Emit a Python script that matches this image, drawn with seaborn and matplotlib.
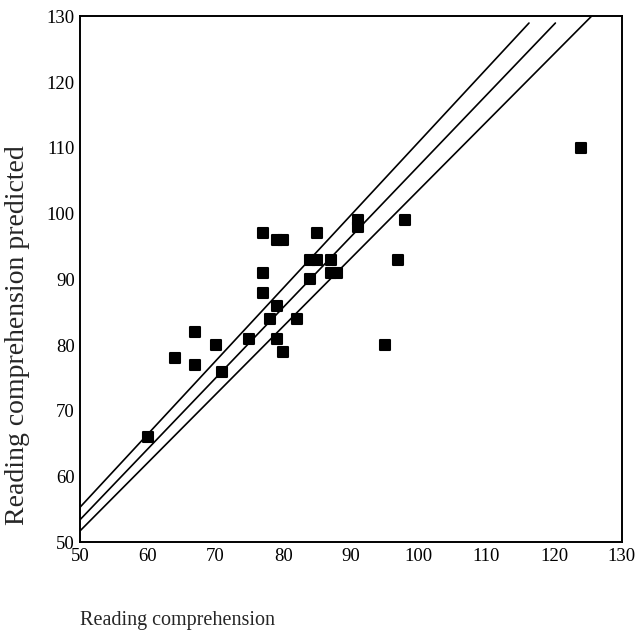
import numpy as np
import pandas as pd
import seaborn as sns
import matplotlib.pyplot as plt

reading = [60, 64, 67, 67, 70, 71, 75, 77, 77, 77, 78, 79, 79, 79, 80, 80, 82,
           84, 84, 85, 85, 87, 87, 88, 91, 91, 95, 97, 98, 124]
predicted = [66, 78, 82, 77, 80, 76, 81, 97, 91, 88, 84, 96, 86, 81, 96, 79, 84,
             93, 90, 97, 93, 93, 91, 91, 99, 98, 80, 93, 99, 110]

# regression line and its two bands (end points)
upper_x = [50, 116.3]
upper_y = [55.4, 129.0]
fit_x = [50, 120.2]
fit_y = [53.5, 129.0]
lower_x = [50, 125.5]
lower_y = [51.8, 130.0]

ticks = [50, 60, 70, 80, 90, 100, 110, 120, 130]

sns.set_style('white')
plt.rcParams['font.family'] = ['Liberation Serif', 'DejaVu Serif']

fig = plt.figure(figsize=(6.37, 6.33), dpi=100)
ax = fig.add_axes([0.126, 0.143, 0.850, 0.831])

df = pd.DataFrame({'reading': reading, 'predicted': predicted})

for xs, ys in [(upper_x, upper_y), (fit_x, fit_y), (lower_x, lower_y)]:
    sns.lineplot(x=xs, y=ys, color='black', linewidth=1.2, ax=ax)

# rounded dark squares like in the printed figure
sns.scatterplot(data=df, x='reading', y='predicted', marker='s', s=45,
                color='black', edgecolor='black', linewidth=1.5, ax=ax,
                zorder=3)
for coll in ax.collections:
    coll.set_joinstyle('round')

ax.set_xlim(50, 130)
ax.set_ylim(50, 130)
ax.set_xticks(ticks)
ax.set_yticks(ticks)
ax.tick_params(direction='out', length=2.5, width=3, color='black',
               labelsize=13.5, pad=1.5, labelcolor='black')
for side in ['left', 'bottom', 'top', 'right']:
    ax.spines[side].set_color('black')
    ax.spines[side].set_linewidth(1.4)
ax.set_xlabel('')
ax.set_ylabel('')

fig.text(0.027, 0.47, 'Reading comprehension predicted', rotation=90,
         ha='center', va='center', fontsize=20)
fig.text(0.126, 0.0126, 'Reading comprehension', ha='left', va='baseline',
         fontsize=14.5)

fig.savefig('out.png', dpi=100)
